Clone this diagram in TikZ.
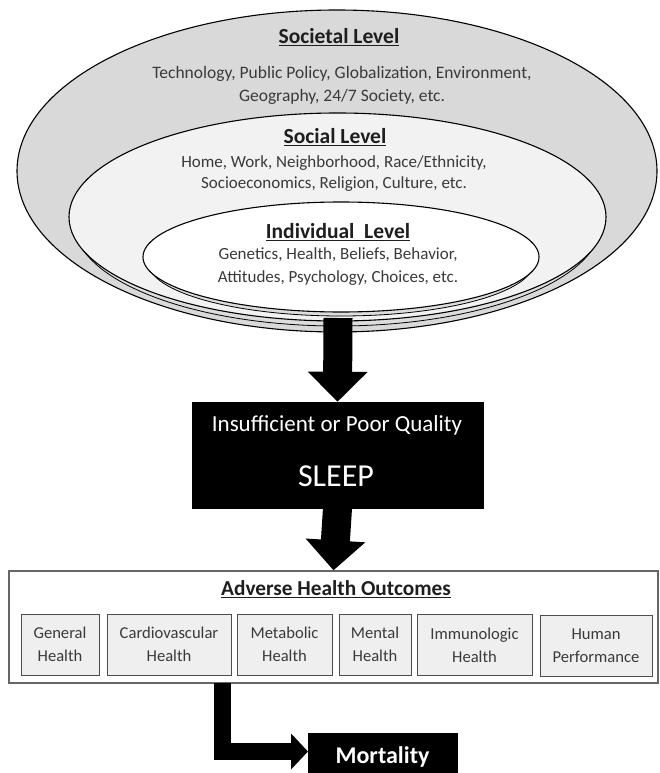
\documentclass[tikz,border=0pt]{standalone}
\usepackage{fontspec}
\setmainfont{Carlito}
\usetikzlibrary{shapes.geometric,arrows.meta}
\definecolor{txt}{HTML}{3A3A3A}
\definecolor{ttl}{HTML}{1E1E1E}
\definecolor{outerfill}{HTML}{D9D9D9}
\definecolor{socfill}{HTML}{F2F2F2}
\definecolor{shadowfill}{HTML}{DDDDDD}
\definecolor{boxfill}{HTML}{EFEFEF}
\begin{document}
\begin{tikzpicture}[x=1pt,y=-1pt,
  ell/.style={ellipse, draw=black, line width=1.1pt, inner sep=0pt},
  ttlstyle/.style={inner sep=0pt, text=ttl, font=\fontsize{21.5}{24}\selectfont\bfseries},
  bodystyle/.style={inner sep=0pt, text=txt, align=center},
  bigarrow/.style={line width=29pt, -{Triangle[width=58pt,length=30pt]}},
  hbox/.style={draw=black!70, fill=boxfill, line width=1pt, inner sep=0pt, align=center,
    text=txt, font=\fontsize{16.6}{23}\selectfont, minimum height=61pt},
  blackbox/.style={fill=black, draw=black, inner sep=0pt, text=white}
]
\useasboundingbox (0,0) rectangle (659,773);
\fill[white] (0,0) rectangle (659,773);

% ellipses
\node[ell, fill=outerfill, minimum width=640pt, minimum height=322pt] (outer) at (337,171) {};
\node[ell, fill=shadowfill, line width=0.8pt, minimum width=527pt, minimum height=206pt] (socshadow) at (337.5,223) {};
\node[ell, fill=socfill, minimum width=537pt, minimum height=208pt] (social) at (337.5,217) {};
\node[ell, fill=shadowfill, line width=0.8pt, minimum width=386pt, minimum height=108pt] (indshadow) at (341,262) {};
\node[ell, fill=white, minimum width=396pt, minimum height=110pt] (indiv) at (341,257) {};

% texts in ellipses
\node[ttlstyle] (t1) at (339,37) {\underline{Societal Level}};
\node[bodystyle, font=\fontsize{17.5}{23}\selectfont] (b1) at (342,85.5)
  {Technology, Public Policy, Globalization, Environment,\\Geography, 24/7 Society, etc.};
\node[ttlstyle] (t2) at (335,137) {\underline{Social Level}};
\node[bodystyle, font=\fontsize{17}{21}\selectfont] (b2) at (334,173.5)
  {Home, Work, Neighborhood, Race/Ethnicity,\\Socioeconomics, Religion, Culture, etc.};
\node[ttlstyle] (t3) at (338,232) {\underline{Individual\ \ Level}};
\node[bodystyle, font=\fontsize{17}{23}\selectfont] (b3) at (338,266.5)
  {Genetics, Health, Beliefs, Behavior,\\Attitudes, Psychology, Choices, etc.};

% sleep box
\node[blackbox, minimum width=291pt, minimum height=106pt] (sleep) at (337.5,455) {};
\node[inner sep=0pt, text=white, font=\fontsize{23}{26}\selectfont] (s1) at (337,425) {Insufficient or Poor Quality};
\node[inner sep=0pt, text=white, font=\fontsize{32}{36}\selectfont] (s2) at (336,476) {SLEEP};

% adverse box
\node[draw=black!60, line width=1.3pt, fill=white, minimum width=649pt, minimum height=112pt, inner sep=0pt] (adv) at (333.5,627) {};
\node[inner sep=0pt, text=ttl, font=\fontsize{21.3}{24}\selectfont\bfseries] (advt) at (336,589) {\underline{Adverse Health Outcomes}};

\node[hbox, minimum width=78pt] (h1) at (60,644.5) {General\\Health};
\node[hbox, minimum width=124pt] (h2) at (169,644.5) {Cardiovascular\\Health};
\node[hbox, minimum width=95pt] (h3) at (284.5,644.5) {Metabolic\\Health};
\node[hbox, minimum width=72pt] (h4) at (375,644.5) {Mental\\Health};
\node[hbox, minimum width=115pt] (h5) at (474.5,645) {Immunologic\\Health};
\node[hbox, minimum width=112pt] (h6) at (596,645.5) {Human\\Performance};

% mortality
\node[blackbox, minimum width=149pt, minimum height=47pt, font=\fontsize{24}{27}\selectfont\bfseries] (mort) at (382.5,756.5) {Mortality};

% arrows
\coordinate (a1s) at (338,318);
\draw[bigarrow] (a1s) -- (sleep.north);
\draw[bigarrow] (sleep.south) -- (adv.north);
\coordinate (e1) at (222,683);
\coordinate (mt) at (308,751.5);
\draw[line width=17pt, line join=miter, -{Triangle[width=35pt,length=17pt]}] (e1) |- (mt);
\end{tikzpicture}
\end{document}
